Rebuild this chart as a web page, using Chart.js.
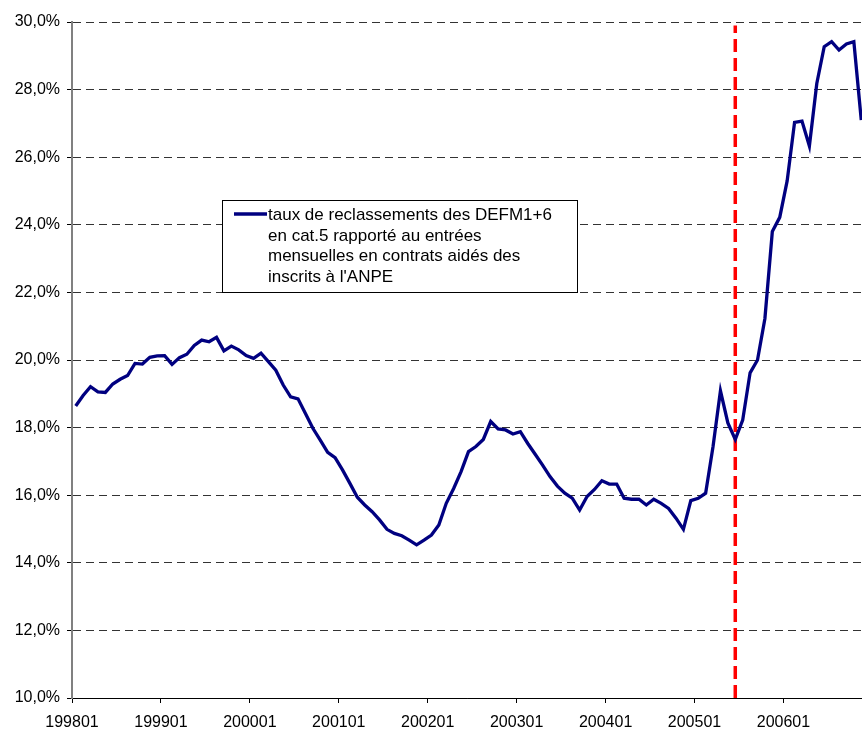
<!DOCTYPE html>
<html>
<head>
<meta charset="utf-8">
<script src="https://cdn.jsdelivr.net/npm/chart.js@4.4.0/dist/chart.umd.min.js"></script>
<style>
  body { margin: 0; background: #fff; }
  #wrap { width: 862px; height: 731px; overflow: hidden; }
</style>
</head>
<body>
<div id="wrap"><canvas id="myChart" width="862" height="731"></canvas></div>
<script>
// year tick labels, one every 12 months starting 199801
const tickLabels = ["199801","199901","200001","200101","200201","200301","200401","200501","200601"];

// monthly rate (%) from 199801 onwards
const rates = [
  18.64,18.95,19.21,19.06,19.04,19.29,19.43,19.54,19.90,19.88,20.08,20.12,
  20.13,19.87,20.07,20.17,20.43,20.59,20.54,20.67,20.27,20.41,20.30,20.13,
  20.05,20.20,19.95,19.70,19.26,18.91,18.85,18.42,17.98,17.63,17.27,17.11,
  16.75,16.35,15.94,15.71,15.51,15.27,14.99,14.87,14.80,14.67,14.53,14.67,
  14.82,15.12,15.76,16.20,16.70,17.29,17.44,17.65,18.18,17.96,17.93,17.81,
  17.88,17.53,17.21,16.89,16.55,16.27,16.06,15.91,15.56,15.96,16.17,16.43,
  16.33,16.33,15.91,15.88,15.88,15.71,15.88,15.76,15.61,15.32,14.99,15.84,
  15.91,16.06,17.44,19.09,18.14,17.65,18.22,19.62,20.00,21.23,23.80,24.22,
  25.30,27.03,27.07,26.33,28.18,29.27,29.42,29.17,29.35,29.42,27.10
];

// month index of the red dashed marker (200506)
const markerMonth = 89;
const markerRange = [10, 29.9];

const legendLines = [
  "taux de reclassements des DEFM1+6",
  "en cat.5 rapporté au entrées",
  "mensuelles en contrats aidés des",
  "inscrits à l'ANPE"
];

const FONT = "'Liberation Sans', Arial, sans-serif";

const boxLegend = {
  id: "boxLegend",
  afterDraw(chart) {
    const ctx = chart.ctx;
    const x = 222, y = 200, w = 355, h = 92;
    ctx.save();
    ctx.fillStyle = "#fff";
    ctx.fillRect(x, y, w, h);
    ctx.strokeStyle = "#000";
    ctx.lineWidth = 1;
    ctx.strokeRect(x + 0.5, y + 0.5, w, h);
    const ds = chart.data.datasets[0];
    ctx.strokeStyle = ds.borderColor;
    ctx.lineWidth = ds.borderWidth;
    ctx.beginPath();
    ctx.moveTo(234, 214);
    ctx.lineTo(267, 214);
    ctx.stroke();
    ctx.fillStyle = "#000";
    ctx.font = "17px " + FONT;
    ctx.textBaseline = "alphabetic";
    legendLines.forEach(function(line, i) {
      ctx.fillText(line, 268, 220 + i * 20.7);
    });
    ctx.restore();
  }
};

new Chart("myChart", {
  type: "line",
  data: {
    datasets: [{
      label: legendLines.join(" "),
      data: rates.map((v, i) => ({x: i, y: v})),
      borderColor: "#000080",
      borderWidth: 3.3,
      pointRadius: 0,
      tension: 0,
      fill: false
    }, {
      label: "marker",
      data: markerRange.map(v => ({x: markerMonth, y: v})),
      borderColor: "#ff0000",
      borderWidth: 3.5,
      borderDash: [13, 6],
      pointRadius: 0,
      fill: false
    }]
  },
  plugins: [boxLegend],
  options: {
    responsive: false,
    animation: false,
    layout: {padding: {top: 22, right: 0, left: 0, bottom: 0}},
    plugins: {
      legend: {display: false},
      tooltip: {enabled: false}
    },
    scales: {
      x: {
        type: "linear",
        min: -0.5,
        max: 106.1,
        afterBuildTicks: function(scale) {
          scale.ticks = tickLabels.map((_, k) => ({value: -0.5 + 12 * k}));
        },
        afterFit: function(scale) { scale.height = 33; },
        ticks: {
          autoSkip: false,
          maxRotation: 0,
          padding: 10,
          color: "#000",
          font: {family: FONT, size: 16},
          callback: function(value, index) { return tickLabels[index]; }
        },
        grid: {
          drawOnChartArea: false,
          drawTicks: true,
          tickLength: 5,
          color: "#000",
          tickBorderDash: []
        },
        border: {display: true, color: "#000", width: 1}
      },
      y: {
        min: 10,
        max: 30,
        afterFit: function(scale) { scale.width = 72; },
        ticks: {
          stepSize: 2,
          padding: 7,
          color: "#000",
          font: {family: FONT, size: 16},
          callback: function(v) { return v.toFixed(1).replace(".", ",") + "%"; }
        },
        grid: {
          color: "#333",
          lineWidth: 1,
          tickLength: 5,
          tickColor: "#000",
          tickBorderDash: []
        },
        border: {display: true, color: "#808080", width: 2, dash: [8, 5]}
      }
    }
  }
});
</script>
</body>
</html>
